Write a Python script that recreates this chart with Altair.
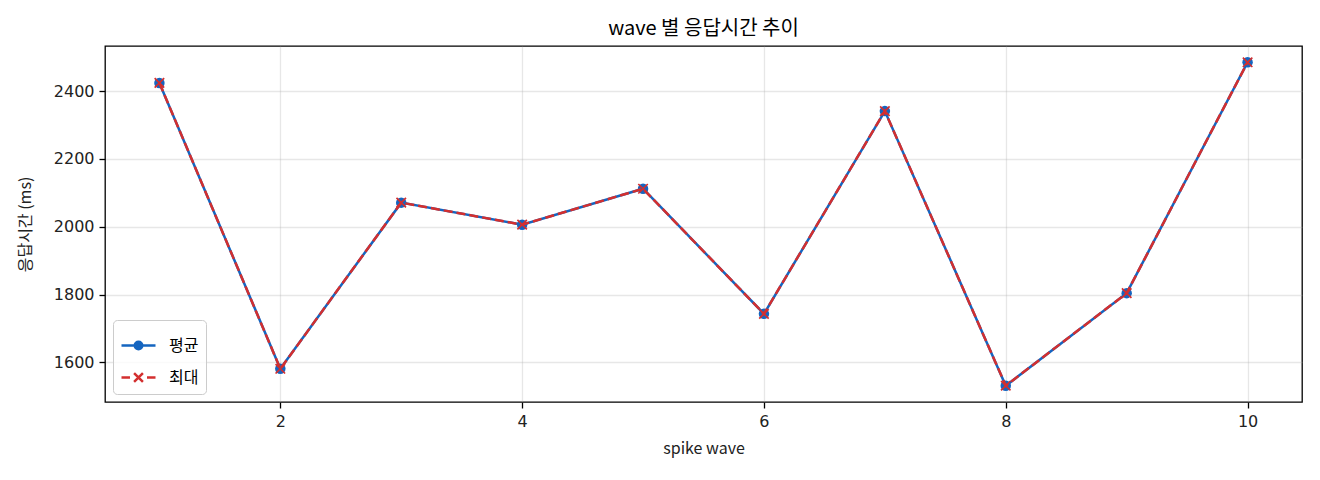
import altair as alt
import pandas as pd

waves = [1, 2, 3, 4, 5, 6, 7, 8, 9, 10]
avg_ms = [2424, 1581, 2071, 2006, 2112, 1743, 2341, 1531, 1804, 2485]
max_ms = [2424, 1581, 2071, 2006, 2112, 1743, 2341, 1531, 1804, 2485]
series_names = ["평균", "최대"]
series_colors = ["#1565c0", "#d32f2f"]

FONT = "Noto Sans CJK KR"
NUM_FONT = "DejaVu Sans"

df = pd.concat([
    pd.DataFrame({"wave": waves, "ms": avg_ms, "series": "평균"}),
    pd.DataFrame({"wave": waves, "ms": max_ms, "series": "최대"}),
])

x = alt.X(
    "wave:Q",
    scale=alt.Scale(domain=[0.55, 10.45], nice=False, zero=False),
    axis=alt.Axis(title="spike wave", values=[2, 4, 6, 8, 10], format="d", titlePadding=11),
)
y = alt.Y(
    "ms:Q",
    scale=alt.Scale(domain=[1483, 2533], nice=False, zero=False),
    axis=alt.Axis(title="응답시간 (ms)", values=[1600, 1800, 2000, 2200, 2400], format="d", titlePadding=20),
)

base = alt.Chart(df).encode(x=x, y=y)

avg_only = base.transform_filter(alt.datum.series == "평균")
max_only = base.transform_filter(alt.datum.series == "최대")

avg_line = avg_only.mark_line(color=series_colors[0], strokeWidth=2.5)
avg_pts = avg_only.mark_point(shape="circle", filled=True, size=110, opacity=1, color=series_colors[0])
max_line = max_only.mark_line(color=series_colors[1], strokeWidth=2.5, strokeDash=[9, 4])
max_pts = max_only.mark_point(
    shape="M-1,-1L1,1M-1,1L1,-1", filled=False, size=90, opacity=1,
    color=series_colors[1], strokeWidth=1.7,
)

# legend only: no marks drawn, symbols are line + marker paths
legend_scale = alt.Scale(domain=series_names, range=series_colors)
legend_layer = base.transform_filter("false").mark_point(filled=True, strokeWidth=2.5, opacity=1).encode(
    color=alt.Color("series:N", scale=legend_scale, legend=alt.Legend(title=None)),
    stroke=alt.Stroke("series:N", scale=legend_scale, legend=alt.Legend(title=None)),
    shape=alt.Shape(
        "series:N",
        scale=alt.Scale(
            domain=series_names,
            range=[
                "M-1,0H1M0.22,0A0.22,0.22 0 1,1 -0.22,0A0.22,0.22 0 1,1 0.22,0Z",
                "M-1,0H-0.5M0.5,0H1M-0.26,-0.26L0.26,0.26M-0.26,0.26L0.26,-0.26",
            ],
        ),
        legend=alt.Legend(title=None),
    ),
)

chart = alt.layer(avg_line, avg_pts, max_line, max_pts, legend_layer).properties(
    width=1197,
    height=356,
    title=alt.Title("wave 별 응답시간 추이", fontSize=20, font=FONT, fontWeight="normal", offset=7, color="black"),
    autosize=alt.AutoSizeParams(type="none"),
    padding={"left": 97, "top": 38, "right": 10, "bottom": 60},
).configure(
    font=FONT,
).configure_view(
    stroke="black",
    strokeWidth=1.3,
).configure_axis(
    domain=False,
    grid=True,
    gridColor="#b0b0b0",
    gridOpacity=0.3,
    gridWidth=1.3,
    ticks=True,
    tickColor="black",
    tickWidth=1.3,
    tickSize=6,
    labelPadding=5,
    labelFont=NUM_FONT,
    labelFontSize=16,
    labelColor="#222222",
    titleFont=FONT,
    titleFontSize=16,
    titleFontWeight="normal",
    titleColor="#222222",
).configure_legend(
    orient="bottom-left",
    offset=8,
    padding=7,
    strokeColor="#cccccc",
    cornerRadius=4,
    fillColor="rgba(255,255,255,0.8)",
    symbolSize=1156,
    symbolStrokeWidth=2.5,
    labelFont=FONT,
    labelFontSize=16,
    labelColor="black",
    labelOffset=12,
    rowPadding=4,
)

chart.save("out.html", embed_options={"renderer": "svg", "actions": False})
